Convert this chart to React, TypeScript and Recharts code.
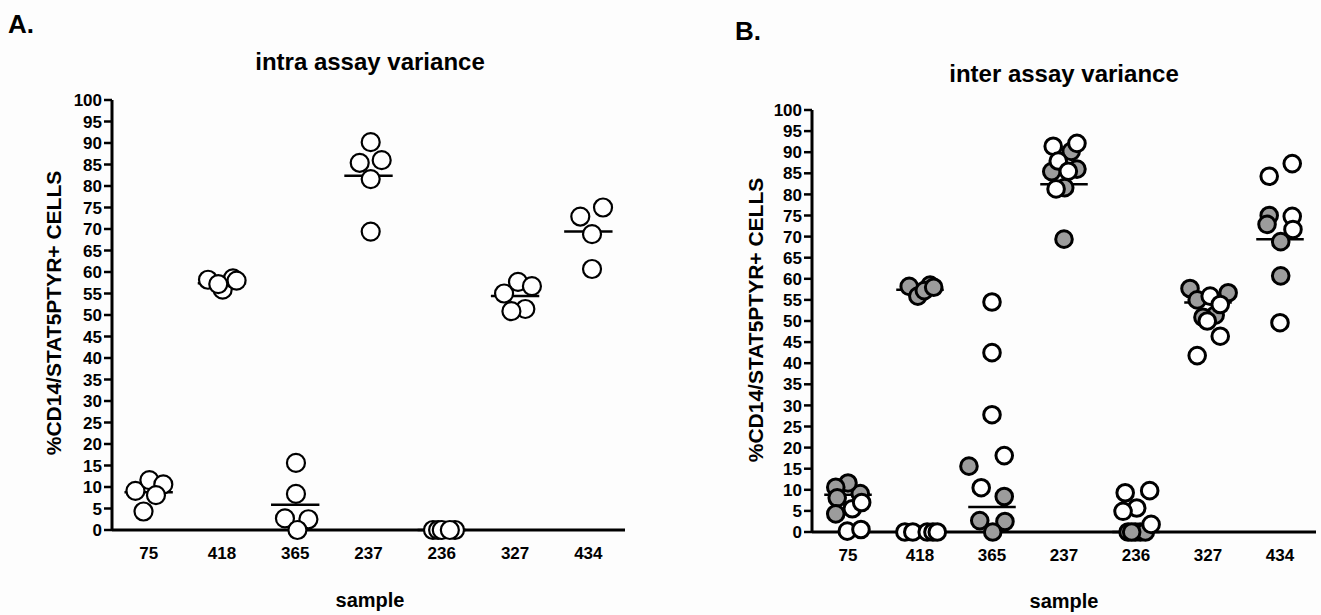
import React from "react";
import { ScatterChart, Scatter, XAxis, YAxis, ReferenceLine } from "recharts";

const FONT = '"Liberation Sans", Arial, Helvetica, sans-serif';

const samples = ["75", "418", "365", "237", "236", "327", "434"];
const yTicks = [0, 5, 10, 15, 20, 25, 30, 35, 40, 45, 50, 55, 60, 65, 70, 75, 80, 85, 90, 95, 100];

// intra assay replicates (panel A, also the grey dots of panel B)
const intraValues = [
  [9.1, 11.6, 10.6, 8.1, 4.3],
  [58.2, 55.9, 58.5, 57.2, 58.0],
  [15.6, 8.4, 2.7, 2.5, 0],
  [90.2, 85.4, 86.0, 81.6, 69.4],
  [0, 0, 0, 0, 0],
  [57.7, 56.7, 55.0, 51.4, 50.9],
  [75.0, 72.9, 68.8, 60.7],
];
const intraMeans = [8.8, 57.4, 5.9, 82.4, 0, 54.4, 69.4];

// horizontal scatter of the dots, in category widths
const intraJitterA = [
  [-0.18, 0.01, 0.2, 0.1, -0.07],
  [-0.19, 0.01, 0.15, -0.05, 0.2],
  [0.01, 0.01, -0.14, 0.18, 0.03],
  [0.03, -0.12, 0.18, 0.03, 0.03],
  [-0.12, -0.05, 0, 0.18, 0.11],
  [0.04, 0.23, -0.15, 0.14, -0.05],
  [0.2, -0.11, 0.05, 0.05],
];
const intraJitterB = [
  [0.17, 0, -0.17, -0.15, -0.17],
  [-0.15, -0.03, 0.14, 0.06, 0.19],
  [-0.32, 0.17, -0.17, 0.18, 0.01],
  [0.1, -0.17, 0.18, 0.01, 0],
  [-0.11, -0.01, 0.06, 0.13, -0.06],
  [-0.25, 0.28, -0.15, 0.1, -0.07],
  [-0.15, -0.18, 0.01, 0.01],
];

// inter assay runs (panel B, white dots)
const interValues = [
  [5.5, 7.0, 0.2, 0.6],
  [0, 0, 0, 0, 0],
  [54.5, 42.5, 27.8, 18.1, 10.5],
  [91.4, 92.1, 87.9, 85.5, 81.3],
  [9.3, 9.8, 5.7, 4.9, 1.8],
  [55.9, 53.9, 50.0, 46.4, 41.8],
  [87.3, 84.3, 74.8, 71.7, 49.6],
];
const interJitter = [
  [0.06, 0.19, -0.01, 0.18],
  [-0.21, -0.1, 0.1, 0.18, 0.24],
  [0, 0, 0, 0.17, -0.15],
  [-0.15, 0.18, -0.08, 0.06, -0.11],
  [-0.15, 0.19, 0.01, -0.18, 0.21],
  [0.03, 0.17, -0.01, 0.17, -0.15],
  [0.17, -0.15, 0.17, 0.18, 0],
];

function toPoints(values: number[][], jitter: number[][]) {
  return values.flatMap((vals, i) => vals.map((v, j) => ({ x: i + 0.5 + jitter[i][j], y: v })));
}

const xTicks = samples.map((_, i) => i + 0.5);

const dot = (fill: string, r: number, sw: number) => (p: any) =>
  <circle cx={p.cx} cy={p.cy} r={r} fill={fill} stroke="#000" strokeWidth={sw} />;

const XTick = (p: any) => (
  <text x={p.x} y={p.y} dy="0.71em" textAnchor="middle" fontSize={17} fontWeight="bold" fontFamily={FONT} fill="#000">
    {samples[Math.floor(p.payload.value)]}
  </text>
);
const YTick = (p: any) => (
  <text x={p.x} y={p.y} dy="0.36em" textAnchor="end" fontSize={17} fontWeight="bold" fontFamily={FONT} fill="#000">
    {p.payload.value}
  </text>
);

function Panel({ width, margin, series }: {
  width: number;
  margin: { top: number; right: number; bottom: number; left: number };
  series: { data: { x: number; y: number }[]; fill: string; r: number; sw: number }[];
}) {
  return (
    <ScatterChart width={width} height={615} margin={margin}>
      <XAxis
        type="number" dataKey="x" domain={[0, 7]} ticks={xTicks} height={30}
        axisLine={{ stroke: "#000", strokeWidth: 3 }} tickLine={false}
        tickMargin={11} tick={XTick} interval={0}
      />
      <YAxis
        type="number" dataKey="y" domain={[0, 100]} ticks={yTicks} width={60}
        axisLine={{ stroke: "#000", strokeWidth: 3 }}
        tickLine={{ stroke: "#000", strokeWidth: 2.5 }} tickSize={8} tickMargin={2}
        tick={YTick} interval={0}
      />
      {intraMeans.map((m, i) => (
        <ReferenceLine
          key={i}
          segment={[{ x: i + 0.5 - 0.33, y: m }, { x: i + 0.5 + 0.33, y: m }]}
          stroke="#000" strokeWidth={2.5}
        />
      ))}
      {series.map((s, k) => (
        <Scatter key={k} data={s.data} shape={dot(s.fill, s.r, s.sw)} isAnimationActive={false} />
      ))}
    </ScatterChart>
  );
}

const txt = (extra: React.CSSProperties): React.CSSProperties => ({
  position: "absolute", fontFamily: FONT, fontWeight: "bold", color: "#000",
  lineHeight: 1, whiteSpace: "nowrap", ...extra,
});

export default function App() {
  return (
    <div style={{ position: "absolute", left: 0, top: 0, width: 1321, height: 615, background: "#fdfdfd", overflow: "hidden" }}>
      <div style={{ position: "absolute", left: 0, top: 0 }}>
        <Panel
          width={660}
          margin={{ top: 100, right: 35, bottom: 55, left: 52 }}
          series={[{ data: toPoints(intraValues, intraJitterA), fill: "#fff", r: 9, sw: 2.2 }]}
        />
      </div>
      <div style={{ position: "absolute", left: 660, top: 0 }}>
        <Panel
          width={661}
          margin={{ top: 110, right: 5, bottom: 53, left: 92 }}
          series={[
            { data: toPoints(intraValues, intraJitterB), fill: "#9c9c9c", r: 8.3, sw: 3 },
            { data: toPoints(interValues, interJitter), fill: "#fff", r: 8.3, sw: 3 },
          ]}
        />
      </div>

      <div style={txt({ left: 8, top: 24, fontSize: 26, transform: "translateY(-50%)" })}>A.</div>
      <div style={txt({ left: 735, top: 31, fontSize: 26, transform: "translateY(-50%)" })}>B.</div>

      <div style={txt({ left: 370, top: 62, fontSize: 24, transform: "translate(-50%,-50%)" })}>intra assay variance</div>
      <div style={txt({ left: 1064, top: 74, fontSize: 24, transform: "translate(-50%,-50%)" })}>inter assay variance</div>

      <div style={txt({ left: 53, top: 313, fontSize: 21, transform: "translate(-50%,-50%) rotate(-90deg)" })}>%CD14/STAT5PTYR+ CELLS</div>
      <div style={txt({ left: 755, top: 320, fontSize: 21, transform: "translate(-50%,-50%) rotate(-90deg)" })}>%CD14/STAT5PTYR+ CELLS</div>

      <div style={txt({ left: 370, top: 600, fontSize: 20, transform: "translate(-50%,-50%)" })}>sample</div>
      <div style={txt({ left: 1064, top: 601, fontSize: 20, transform: "translate(-50%,-50%)" })}>sample</div>
    </div>
  );
}
